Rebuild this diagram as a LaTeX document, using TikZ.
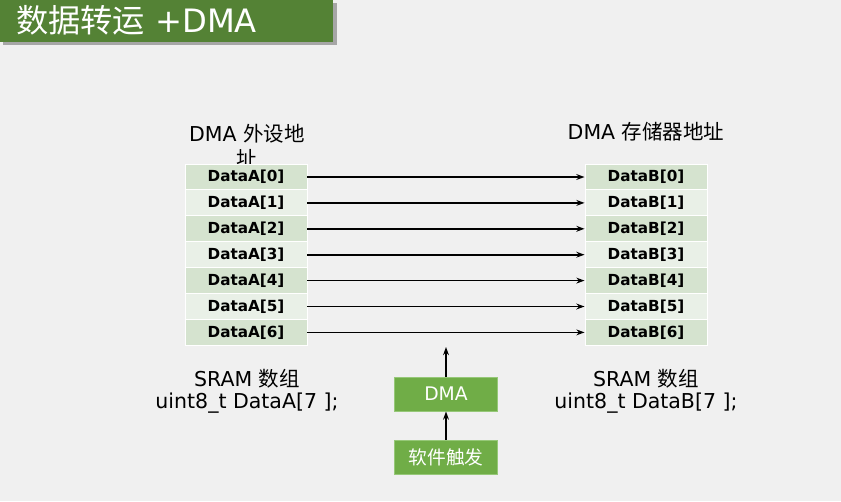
\documentclass[tikz,border=0pt]{standalone}
\usepackage{fontspec}
\setmainfont{DejaVu Sans}
\newfontfamily\cjk{Noto Sans CJK SC}
\usetikzlibrary{arrows.meta}
\definecolor{pagebg}{RGB}{240,240,240}
\definecolor{titlegreen}{RGB}{84,130,53}
\definecolor{boxgreen}{RGB}{112,173,71}
\definecolor{boxedge}{RGB}{150,200,120}
\definecolor{celldark}{RGB}{213,227,207}
\definecolor{celllight}{RGB}{233,240,231}
\tikzset{
  cell/.style={draw=white,line width=0.8pt,minimum width=3.66cm,minimum height=0.78cm,
    inner sep=0pt,font=\fontsize{13}{15}\selectfont\bfseries},
  caption/.style={align=center,font=\fontsize{17.5}{19}\selectfont},
  greenbox/.style={draw=boxedge,line width=0.8pt,fill=boxgreen,text=white,
    minimum width=3.09cm,minimum height=1.02cm,inner sep=0pt},
  link/.style={line width=1.4pt,-{Stealth[length=7pt,width=5pt]}}
}
\begin{document}
\begin{tikzpicture}[x=0.03cm,y=-0.03cm]
\useasboundingbox[fill=pagebg] (0,0) rectangle (841,501);
% title bar
\fill[black!35] (3,3) rectangle (337,45);
\fill[titlegreen] (0,0) rectangle (333,42);
\node[anchor=west,text=white,font=\fontsize{27.5}{30}\selectfont] (title) at (12,20)
  {{\cjk 数据转运} +DMA};
% captions above (second line runs under the cells)
\node[caption,text width=3.6cm,font=\fontsize{17.5}{21}\selectfont] (capA) at (247,146)
  {DMA {\cjk 外设地}\\{\cjk 址}};
\node[caption] (capB) at (646,132) {DMA {\cjk 存储器地址}};
% the two arrays
\foreach \i/\c in {0/celldark,1/celllight,2/celldark,3/celllight,4/celldark,5/celllight,6/celldark}{
  \node[cell,fill=\c] (A\i) at (246,{177+25.9*\i}) {DataA[\i]};
  \node[cell,fill=\c] (B\i) at (646,{177+25.9*\i}) {DataB[\i]};
  \draw[link] (A\i.east) -- (B\i.west);
}
% captions below
\node[caption] (sramA) at (247,391) {SRAM {\cjk 数组}\\uint8\_t DataA[7 ];};
\node[caption] (sramB) at (646,391) {SRAM {\cjk 数组}\\uint8\_t DataB[7 ];};
% trigger chain
\node[greenbox,font=\fontsize{16}{18}\selectfont] (dma) at (446,394) {DMA};
\node[greenbox,font=\fontsize{16}{18}\selectfont\cjk] (soft) at (446,457) {软件触发};
\coordinate (top) at (446,347);
\draw[link] (soft.north) -- (dma.south);
\draw[link] (dma.north) -- (top);
\end{tikzpicture}
\end{document}
